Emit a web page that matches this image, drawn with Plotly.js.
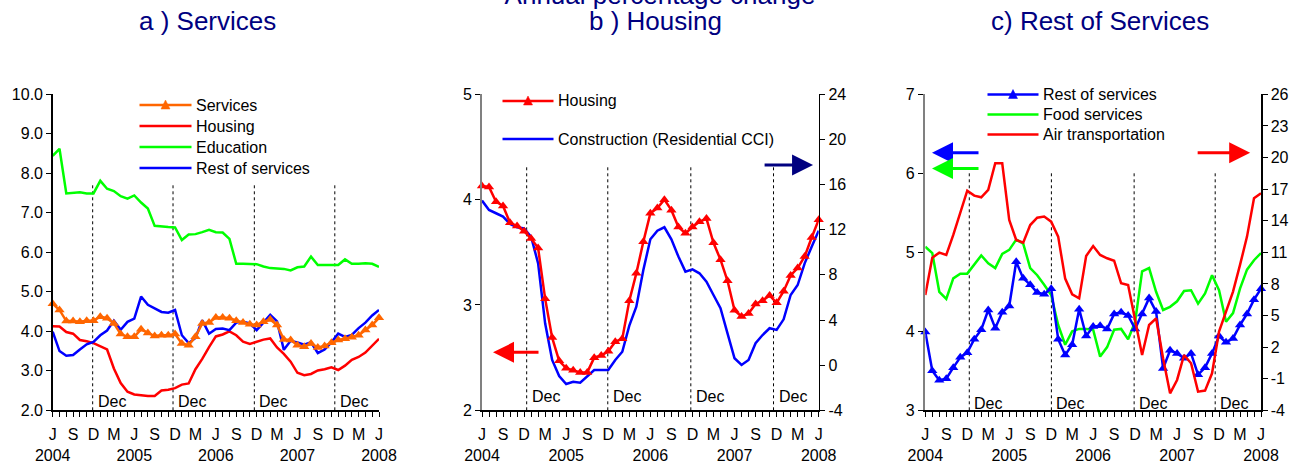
<!DOCTYPE html>
<html><head><meta charset="utf-8">
<script src="https://cdn.plot.ly/plotly-3.0.1.min.js"></script>
<style>html,body{margin:0;padding:0;background:#fff;overflow:hidden}</style>
</head><body><div id="chart" style="width:1298px;height:463px"></div>
<script>
// ---------- data (monthly, June 2004 .. June 2008) ----------
const monthLabels = ['J','S','D','M'];
const yearLabels = ['2004','2005','2006','2007','2008'];

const services = [4.70,4.54,4.26,4.26,4.24,4.27,4.27,4.37,4.33,4.20,3.93,3.86,3.86,4.05,3.96,3.88,3.90,3.90,3.93,3.69,3.65,3.86,4.20,4.22,4.35,4.35,4.33,4.27,4.22,4.18,4.16,4.24,4.30,4.16,3.79,3.78,3.65,3.61,3.69,3.59,3.63,3.71,3.78,3.81,3.85,3.90,4.03,4.16,4.34];
const housing = [4.13,4.12,3.98,3.94,3.78,3.75,3.70,3.63,3.54,3.06,2.69,2.47,2.40,2.38,2.36,2.36,2.50,2.52,2.56,2.65,2.68,3.04,3.30,3.60,3.87,3.92,4.00,3.90,3.74,3.68,3.74,3.79,3.82,3.59,3.43,3.23,2.95,2.89,2.92,3.01,3.04,3.09,3.02,3.13,3.28,3.35,3.46,3.64,3.81];
const education = [8.44,8.62,7.49,7.51,7.52,7.49,7.49,7.81,7.61,7.55,7.42,7.36,7.44,7.26,7.11,6.67,6.65,6.64,6.63,6.31,6.45,6.46,6.51,6.57,6.51,6.50,6.34,5.71,5.71,5.71,5.70,5.64,5.60,5.59,5.58,5.54,5.62,5.64,5.89,5.68,5.68,5.68,5.68,5.82,5.71,5.71,5.72,5.71,5.63];
const restOfServices = [3.99,3.50,3.38,3.40,3.54,3.67,3.73,3.90,4.02,4.27,4.04,4.24,4.32,4.88,4.67,4.59,4.49,4.47,4.54,3.90,3.70,3.83,4.28,3.94,4.06,4.07,4.03,4.22,4.24,4.20,4.03,4.22,4.42,4.25,3.53,3.76,3.72,3.66,3.72,3.45,3.54,3.72,3.94,3.86,3.91,4.08,4.22,4.40,4.54];
const construction = [14.58,13.75,13.46,13.16,12.51,12.22,12.12,11.38,9.02,3.71,0.46,-0.96,-1.67,-1.47,-1.56,-1.02,-0.43,-0.43,-0.43,0.46,1.19,3.50,5.18,8.43,11.15,11.92,12.22,11.15,9.62,8.29,8.49,8.14,7.40,6.22,5.04,2.82,0.61,0.02,0.46,1.94,2.67,3.27,3.12,4.06,6.22,7.10,9.02,10.50,11.92];
const foodServices = [5.07,4.99,4.50,4.41,4.67,4.73,4.73,4.85,4.96,4.86,4.80,4.98,5.03,5.16,5.11,4.80,4.71,4.59,4.46,4.08,3.83,4.00,4.03,4.03,4.02,3.68,3.80,4.02,4.03,3.90,4.12,4.76,4.80,4.50,4.27,4.31,4.38,4.51,4.52,4.35,4.48,4.71,4.52,4.12,4.23,4.54,4.78,4.90,4.99];
const airTransport = [6.95,10.49,10.97,10.75,12.65,14.70,16.85,16.38,16.22,16.92,19.45,19.45,14.07,12.17,11.92,13.59,14.29,14.39,13.91,12.49,8.50,7.01,6.63,10.65,11.60,10.75,10.43,10.20,8.06,7.90,4.73,1.25,4.10,4.73,0.94,-2.39,-1.12,1.25,0.46,-2.23,-2.13,-0.49,3.47,5.37,7.27,9.80,12.49,16.13,16.60];

const ticksA = [2,3,4,5,6,7,8,9,10];
const ticksBLeft = [2,3,4,5];
const ticksBRight = [-4,0,4,8,12,16,20,24];
const ticksCLeft = [3,4,5,6,7];
const ticksCRight = [-4,-1,2,5,8,11,14,17,20,23,26];

// ---------- helpers ----------
const W = 1298, H = 463;
const px = x => x / W, py = y => (H - y) / H;
const months = services.map((_, i) => i);
const xTickText = months.map(m => m % 3 ? '' :
  monthLabels[(m / 3) % 4] + (m % 12 === 0 ? '<br>' + yearLabels[m / 12] : ''));
const FONT = 'Liberation Sans, Arial, sans-serif';
const NAVY = '#000080';

const yDom = [py(410.3), py(94.3)];
function xAx(l, r, anchor) {
  return {domain: [px(l), px(r)], anchor, range: [0, months.length - 1],
    tickmode: 'array', tickvals: months, ticktext: xTickText, tickangle: 0,
    ticks: 'outside', ticklen: 5, tickwidth: 1, tickcolor: '#000',
    showline: true, linecolor: '#000', linewidth: 1.5, showgrid: false, zeroline: false,
    tickfont: {size: 16, color: '#000', family: FONT}, ticklabelstandoff: 4, fixedrange: true};
}
function yAx(anchor, range, vals, opts) {
  return Object.assign({domain: yDom, anchor, range, tickmode: 'array', tickvals: vals,
    ticktext: vals.map(v => opts.fmt ? v.toFixed(1) : String(v)),
    ticks: 'outside', ticklen: 5, tickwidth: 1, tickcolor: '#000',
    showline: true, linecolor: '#000', linewidth: 1.5, showgrid: false, zeroline: false,
    tickfont: {size: 16, color: '#000', family: FONT}, fixedrange: true}, opts.extra || {});
}
function crossAx(overlay, anchor, range, vals) {
  return {domain: yDom, overlaying: overlay, anchor, side: 'right', range, tickmode: 'array',
    tickvals: vals, ticks: 'inside', ticklen: 5, tickwidth: 1, tickcolor: '#000',
    showticklabels: false, showline: false, showgrid: false, zeroline: false, fixedrange: true};
}

// ---------- traces ----------
function lineTrace(y, color, xa, ya, tri) {
  const t = {x: months, y, type: 'scatter', mode: tri ? 'lines+markers' : 'lines', xaxis: xa, yaxis: ya,
    line: {color, width: 2.5}, cliponaxis: false, hoverinfo: 'skip'};
  if (tri) t.marker = {symbol: 'triangle-up', size: 9, color};
  return t;
}
const traces = [
  lineTrace(education, '#00FF00', 'x', 'y', false),
  lineTrace(housing, '#FF0000', 'x', 'y', false),
  lineTrace(restOfServices, '#0000FF', 'x', 'y', false),
  lineTrace(services, '#FF6600', 'x', 'y', true),
  lineTrace(construction, '#0000FF', 'x2', 'y2', false),
  lineTrace(housing, '#FF0000', 'x2', 'y3', true),
  lineTrace(foodServices, '#00FF00', 'x3', 'y4', false),
  lineTrace(restOfServices, '#0000FF', 'x3', 'y4', true),
  lineTrace(airTransport, '#FF0000', 'x3', 'y5', false)
];

// ---------- decorations ----------
const shapes = [], annotations = [];
function decLines(xref, yref, pos, y0, y1, labelY) {
  pos.forEach(d => {
    shapes.push({type: 'line', xref, yref, x0: d, x1: d, y0, y1, layer: 'below',
      line: {color: '#000', width: 1, dash: 'dot'}});
    annotations.push({xref, yref: 'paper', x: d, y: py(labelY), xanchor: 'left', yanchor: 'middle',
      xshift: 3, text: 'Dec', showarrow: false, font: {size: 16, color: '#000', family: FONT}});
  });
}
decLines('x', 'y', [5.88, 17.7, 29.66, 41.5], 2, 7.73, 401.5);
decLines('x2', 'y3', [6.37, 17.93, 29.77, 41.56], 2, 4.33, 396.5);
decLines('x3', 'y4', [6.29, 18.03, 29.86, 41.45], 3, 6.0, 403);

function legendItem(x0, x1, yc, color, label, tri) {
  shapes.push({type: 'line', xref: 'paper', yref: 'paper', x0: px(x0), x1: px(x1),
    y0: py(yc), y1: py(yc), line: {color, width: 2.5}});
  if (tri) {
    const cx = (x0 + x1) / 2;
    shapes.push({type: 'path', xref: 'paper', yref: 'paper', fillcolor: color,
      line: {color, width: 0.5},
      path: `M${px(cx - 4.5)},${py(yc + 4)} L${px(cx + 4.5)},${py(yc + 4)} L${px(cx)},${py(yc - 5)} Z`});
  }
  annotations.push({xref: 'paper', yref: 'paper', x: px(x1 + 2), y: py(yc), xanchor: 'left',
    yanchor: 'middle', text: label, showarrow: false, font: {size: 16, color: '#000', family: FONT}});
}
legendItem(139.5, 191.5, 105, '#FF6600', 'Services', true);
legendItem(139.5, 191.5, 126, '#FF0000', 'Housing', false);
legendItem(139.5, 191.5, 147, '#00FF00', 'Education', false);
legendItem(139.5, 191.5, 168, '#0000FF', 'Rest of services', false);
legendItem(502.5, 553.5, 101, '#FF0000', 'Housing', true);
legendItem(502.5, 553.5, 139, '#0000FF', 'Construction (Residential CCI)', false);
legendItem(987.5, 1038.5, 94.5, '#0000FF', 'Rest of services', true);
legendItem(987.5, 1038.5, 114.5, '#00FF00', 'Food services', false);
legendItem(987.5, 1038.5, 134.5, '#FF0000', 'Air transportation', false);

function arrow(xref, yref, x, y, ax, color) {
  annotations.push({xref, yref, x, y, ax, ay: 0, axref: 'pixel', ayref: 'pixel', text: '',
    showarrow: true, arrowhead: 2, arrowsize: 1.4, arrowwidth: 3, arrowcolor: color, standoff: 0});
}
arrow('x2', 'y3', 1.57, 2.55, 47, '#FF0000');
arrow('x2', 'y2', 47.2, 17.74, -50, NAVY);
arrow('x3', 'y4', 0.96, 6.26, 48, '#0000FF');
arrow('x3', 'y4', 0.96, 6.06, 48, '#00FF00');
arrow('x3', 'y5', 46.45, 20.45, -54, '#FF0000');

const titleFont = {size: 26, color: NAVY, family: FONT};
[[207, 'a ) Services'], [655, 'b ) Housing'], [1100, 'c) Rest of Services']].forEach(([x, t]) =>
  annotations.push({xref: 'paper', yref: 'paper', x: px(x), y: py(21), xanchor: 'center',
    yanchor: 'middle', text: t, showarrow: false, font: titleFont}));

const layout = {
  width: W, height: H, margin: {l: 0, r: 0, t: 0, b: 0}, autosize: false,
  paper_bgcolor: '#fff', plot_bgcolor: 'rgba(0,0,0,0)', showlegend: false,
  font: {family: FONT, size: 16, color: '#000'},
  title: {text: 'Annual percentage change', font: titleFont, xref: 'paper', yref: 'paper',
    x: px(660), xanchor: 'center', y: py(4), yanchor: 'bottom', automargin: false},
  xaxis: xAx(52.7, 379, 'y'),
  xaxis2: xAx(482, 818.7, 'y2'),
  xaxis3: xAx(925.3, 1261, 'y4'),
  yaxis: yAx('x', [2, 10], ticksA, {fmt: true}),
  yaxis2: yAx('x2', [-4, 24], ticksBRight, {extra: {side: 'right'}}),
  yaxis3: yAx('x2', [2, 5], ticksBLeft, {extra: {side: 'left', overlaying: 'y2', linecolor: '#808080', linewidth: 2}}),
  yaxis4: yAx('x3', [3, 7], ticksCLeft, {extra: {side: 'left', linecolor: '#808080', linewidth: 2.5}}),
  yaxis5: yAx('x3', [-4, 26], ticksCRight, {extra: {side: 'right', overlaying: 'y4'}}),
  yaxis6: crossAx('y2', 'x2', [-4, 24], ticksBRight),
  yaxis7: crossAx('y4', 'x3', [-4, 26], ticksCRight),
  shapes, annotations
};

Plotly.newPlot('chart', traces, layout, {displayModeBar: false, staticPlot: true});
</script>
</body></html>
